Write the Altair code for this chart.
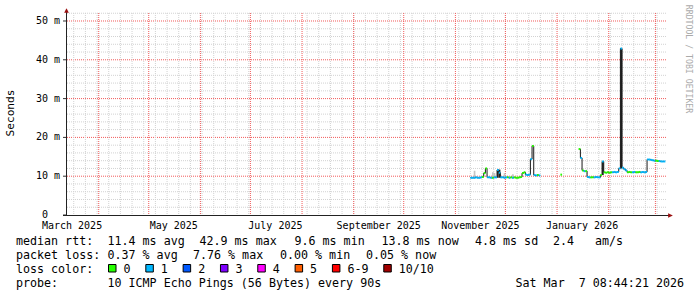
import altair as alt
import pandas as pd

# ---------------- chart values ----------------
# median rtt per day (ms) and loss count (0 -> green, 1 -> cyan)
seg_a_first_day = "2025-11-10"
seg_a_median_ms = [9.6, 9.6, 9.6, 9.7, 9.6, 9.6, 9.7, 9.8, 10.8, 12.0,
                   9.7, 9.7, 9.6, 9.6, 9.7, 9.7, 11.6, 10.9, 9.7, 9.7,
                   9.6, 9.7, 9.7, 9.6, 9.7, 9.6, 9.7, 9.6, 9.6, 9.7,
                   9.8, 10.8, 11.0, 10.4, 10.3, 10.4, 14.4, 17.8, 10.3, 10.2,
                   10.3, 10.2]
seg_a_loss = [1, 1, 1, 1, 1, 1, 1, 0, 0, 0,
              1, 1, 1, 0, 1, 1, 1, 1, 1, 1,
              1, 1, 0, 1, 0, 1, 0, 0, 0, 0,
              0, 0, 0, 1, 1, 1, 1, 0, 1, 1,
              0, 1]

seg_c_first_day = "2026-01-03"
seg_c_median_ms = [10.4]
seg_c_loss = [0]

seg_b_first_day = "2026-01-14"
seg_b_median_ms = [17.0, 14.7, 11.5, 11.3, 11.3, 9.8, 9.7, 9.7, 9.7, 9.7,
                   9.8, 9.7, 9.7, 10.3, 13.8, 11.0, 10.9, 11.0, 10.9, 11.0,
                   11.0, 11.1, 11.0, 11.1, 12.0, 42.9, 12.2, 11.8, 11.5, 11.0,
                   11.1, 11.0, 11.0, 11.1, 11.0, 11.0, 11.1, 11.0, 11.1, 11.0,
                   11.1, 14.3, 14.3, 14.2, 14.1, 14.0, 14.0, 13.9, 13.9, 13.8,
                   13.8, 13.8]
seg_b_loss = [0, 1, 0, 1, 0, 1, 1, 0, 0, 1,
              1, 1, 1, 0, 1, 0, 0, 0, 0, 0,
              1, 1, 1, 1, 1, 1, 1, 1, 1, 0,
              0, 0, 1, 1, 0, 0, 0, 1, 1, 1,
              1, 1, 1, 1, 1, 1, 0, 0, 1, 1,
              1, 1]

# smoke (spread of pings) visible on some days
light_smoke_days = ["2025-11-12", "2025-11-23", "2025-11-24", "2025-11-30", "2025-12-05"]
light_smoke_low_ms = [9.5, 9.5, 9.5, 9.5, 9.5]
light_smoke_high_ms = [11.4, 11.0, 10.8, 10.8, 10.5]
dark_smoke_days = ["2025-11-26", "2025-11-27", "2026-01-28", "2026-02-08"]
dark_smoke_low_ms = [9.6, 9.6, 10.3, 12.0]
dark_smoke_high_ms = [11.7, 11.7, 13.9, 43.0]

loss_labels = ["0", "1", "2", "3", "4", "5", "6-9", "10/10"]
loss_colors = ["#26ff00", "#00b8ff", "#0059ff", "#7e00ff", "#ff00ff", "#ff5e00", "#ff0000", "#a10000"]

y_tick_values = [10, 20, 30, 40, 50]
y_tick_labels = ["10 m", "20 m", "30 m", "40 m", "50 m"]
y_zero_value = [0]
y_zero_label = ["0"]
y_minor_ms = [2, 4, 6, 8, 12, 14, 16, 18, 22, 24, 26, 28, 32, 34, 36, 38, 42, 44, 46, 48, 52]
y_major_ms = [10, 20, 30, 40, 50]
x_label_days = ["2025-03-16", "2025-05-16", "2025-07-16", "2025-09-16", "2025-11-16", "2026-01-16"]
x_label_texts = ["March 2025", "May 2025", "July 2025", "September 2025", "November 2025", "January 2026"]

stat_row1 = ["median rtt:", "11.4 ms avg", "42.9 ms max", "9.6 ms min", "13.8 ms now", "4.8 ms sd", "2.4", "am/s"]
stat_row2 = ["packet loss:", "0.37 % avg", "7.76 % max", "0.00 % min", "0.05 % now"]
probe_text = "10 ICMP Echo Pings (56 Bytes) every 90s"
stamp_day = "Sat Mar"
stamp_rest = "7 08:44:21 2026"

# ---------------- layout ----------------
LEFT, TOP, W, H = 66, 13, 600, 202
MONO = "DejaVu Sans Mono"
FS = 11.67
CW = 7.02  # monospace advance at FS

rows = []
for seg_id, (first, meds, losses) in enumerate([
        (seg_a_first_day, seg_a_median_ms, seg_a_loss),
        (seg_c_first_day, seg_c_median_ms, seg_c_loss),
        (seg_b_first_day, seg_b_median_ms, seg_b_loss)]):
    days = pd.date_range(first, periods=len(meds), freq="D")
    for d, m, l in zip(days, meds, losses):
        rows.append({"date": d, "end": d + pd.Timedelta(days=1), "median": m, "loss": l, "seg": seg_id})
df = pd.DataFrame(rows)


def smoke_frame(days, lo, hi):
    f = pd.DataFrame({"date": pd.to_datetime(days), "lo": lo, "hi": hi})
    f["end"] = f["date"] + pd.Timedelta(days=1)
    return f


xscale = alt.Scale(domain=[alt.DateTime(year=2025, month=3, date=12, hours=8, minutes=44, seconds=21),
                           alt.DateTime(year=2026, month=3, date=7, hours=8, minutes=44, seconds=21)],
                   nice=False)
yscale = alt.Scale(domain=[0, 52.06], nice=False, zero=False)


def X(field):
    return alt.X(field, scale=xscale, axis=None)


def Y(field):
    return alt.Y(field, scale=yscale, axis=None)


minor_col = "#d2d2d2"
major_col = "#f25a5a"

hgrid_minor = alt.Chart(pd.DataFrame({"v": y_minor_ms})).mark_rule(
    color=minor_col, strokeDash=[1, 1], strokeWidth=1).encode(y=Y("v:Q"))
hgrid_major = alt.Chart(pd.DataFrame({"v": y_major_ms})).mark_rule(
    color=major_col, strokeDash=[1, 1], strokeWidth=1).encode(y=Y("v:Q"))
mondays = pd.date_range("2025-03-17", "2026-03-02", freq="7D")
month_starts = pd.date_range("2025-04-01", "2026-03-01", freq="MS")
vgrid_minor = alt.Chart(pd.DataFrame({"t": mondays})).mark_rule(
    color=minor_col, strokeDash=[1, 1], strokeWidth=1).encode(x=X("t:T"))
vgrid_major = alt.Chart(pd.DataFrame({"t": month_starts})).mark_rule(
    color=major_col, strokeDash=[1, 1], strokeWidth=1).encode(x=X("t:T"))

light_smoke = alt.Chart(smoke_frame(light_smoke_days, light_smoke_low_ms, light_smoke_high_ms)).mark_rect(
    color="#c4c4c4").encode(x=X("date:T"), x2="end:T", y=Y("lo:Q"), y2="hi:Q")
dark_smoke = alt.Chart(smoke_frame(dark_smoke_days, dark_smoke_low_ms, dark_smoke_high_ms)).mark_rect(
    color="#222222").encode(x=X("date:T"), x2="end:T", y=Y("lo:Q"), y2="hi:Q")

step_line = alt.Chart(df).mark_line(interpolate="step-after", color="#1a1a1a", strokeWidth=1).encode(
    x=X("date:T"), y=Y("median:Q"), detail="seg:N")

median_rules = alt.Chart(df).mark_rule(strokeWidth=2).encode(
    x=X("date:T"), x2="end:T", y=Y("median:Q"),
    color=alt.Color("loss:N", scale=alt.Scale(domain=[0, 1], range=loss_colors[:2]), legend=None))

# tick labels placed through the scales
y_labels = alt.Chart(pd.DataFrame({"v": y_tick_values, "lab": y_tick_labels})).mark_text(
    align="right", baseline="middle", font=MONO, fontSize=10, color="#000").encode(
    y=Y("v:Q"), x=alt.value(-6), text="lab:N")
# "0" sits in the units column of the other labels (two characters further left)
y_zero = alt.Chart(pd.DataFrame({"v": y_zero_value, "lab": y_zero_label})).mark_text(
    align="right", baseline="middle", font=MONO, fontSize=10, color="#000").encode(
    y=Y("v:Q"), x=alt.value(-18), text="lab:N")
y_ticks = alt.Chart(pd.DataFrame({"v": y_zero_value + y_tick_values})).mark_rule(color="#333", strokeWidth=1).encode(
    y=Y("v:Q"), x=alt.value(-3), x2=alt.value(0))
x_labels = alt.Chart(pd.DataFrame({"t": pd.to_datetime(x_label_days), "lab": x_label_texts})).mark_text(
    align="center", baseline="alphabetic", font=MONO, fontSize=10, color="#000").encode(
    x=X("t:T"), y=alt.value(H + 13.5), text="lab:N")

anchor = pd.DataFrame({"k": [0]})


def txt(text, x, y, size=FS, align="left", baseline="alphabetic", color="#000", angle=0):
    return alt.Chart(anchor).mark_text(text=text, align=align, baseline=baseline, font=MONO,
                                       fontSize=size, color=color, angle=angle).encode(
        x=alt.value(x - LEFT), y=alt.value(y - TOP))


axis_col = "#222222"
arrow_col = "#9a1010"
y_axis_line = alt.Chart(anchor).mark_rule(color=axis_col, strokeWidth=1).encode(
    x=alt.value(0.5), y=alt.value(-2), y2=alt.value(H + 1))
x_axis_line = alt.Chart(anchor).mark_rule(color=axis_col, strokeWidth=1).encode(
    x=alt.value(-3), x2=alt.value(W + 3), y=alt.value(H + 0.5))
y_arrow = alt.Chart(anchor).mark_point(shape="M0,-1L1,1L-1,1Z", filled=True, size=22, color=arrow_col, opacity=1).encode(
    x=alt.value(0.5), y=alt.value(-2.5))
x_arrow = alt.Chart(anchor).mark_point(shape="M1,0L-1,1L-1,-1Z", filled=True, size=22, color=arrow_col, opacity=1).encode(
    x=alt.value(W + 4.5), y=alt.value(H + 0.5))

texts = [
    txt("Seconds", 11, 113, size=11.2, align="center", baseline="middle", angle=270),
    txt("RRDTOOL / TOBI OETIKER", 687.5, 59, size=8.2, align="center", baseline="middle", color="#aaaaaa", angle=90),
]
row1_x = [16, 107.5, 199.5, 294.5, 381.5, 475, 553, 595]
for s, x in zip(stat_row1, row1_x):
    texts.append(txt(s, x, 245.3))
row2_x = [16, 107.5, 193, 280, 366]
for s, x in zip(stat_row2, row2_x):
    texts.append(txt(s, x, 259.3))
texts.append(txt("loss color:", 16, 273.3))
texts.append(txt("probe:", 16, 287.3))
texts.append(txt(probe_text, 107.5, 287.3))
texts.append(txt(stamp_rest, 684, 287.3, align="right"))
texts.append(txt(stamp_day, 684 - CW * 24, 287.3))

boxes = []
bx = 108.5
for lab, col in zip(loss_labels, loss_colors):
    boxes.append(alt.Chart(anchor).mark_rect(fill=col, stroke="#000", strokeWidth=1).encode(
        x=alt.value(bx - LEFT), x2=alt.value(bx + 7.5 - LEFT),
        y=alt.value(264.5 - TOP), y2=alt.value(272 - TOP)))
    texts.append(txt(lab, bx + 15, 273.3))
    bx += 15 + CW * len(lab) + 15.3

chart = alt.layer(
    hgrid_minor, hgrid_major, vgrid_minor, vgrid_major, light_smoke, dark_smoke, step_line, median_rules,
    y_labels, y_zero, y_ticks, x_labels,
    y_axis_line, x_axis_line, y_arrow, x_arrow, *boxes, *texts
).properties(
    width=W, height=H,
    padding={"left": LEFT, "top": TOP, "right": 697 - LEFT - W, "bottom": 297 - TOP - H},
    autosize=alt.AutoSizeParams(type="none"),
    background="white",
).configure_view(stroke=None)

chart.save("out.html", embed_options={"renderer": "svg", "actions": False})
